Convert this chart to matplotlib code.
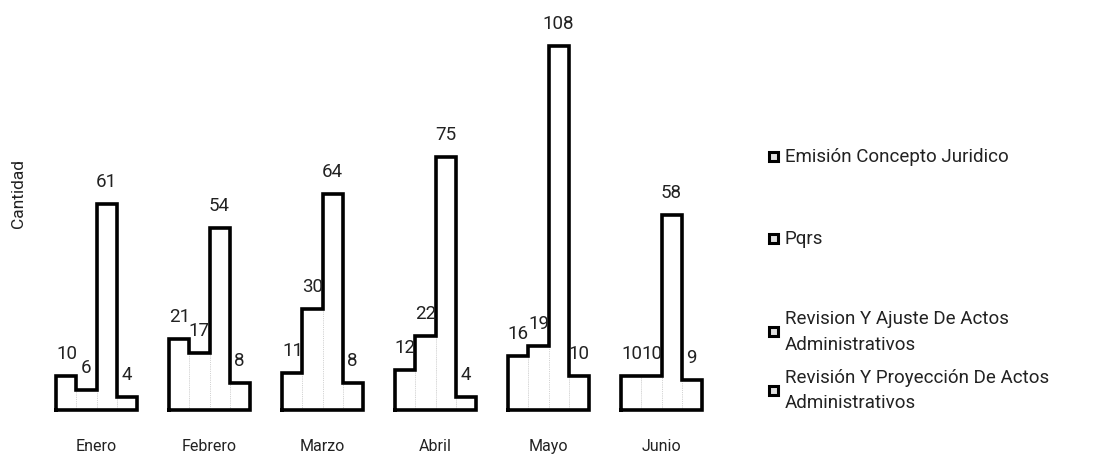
import numpy as np
import matplotlib
matplotlib.use("Agg")
import matplotlib.pyplot as plt
from matplotlib.patches import Rectangle

# Datos del grafico
meses = ["Enero", "Febrero", "Marzo", "Abril", "Mayo", "Junio"]
series = [
    "Emisión Concepto Juridico",
    "Pqrs",
    "Revision Y Ajuste De Actos\nAdministrativos",
    "Revisión Y Proyección De Actos\nAdministrativos",
]
emision = [10, 21, 11, 12, 16, 10]
pqrs = [6, 17, 30, 22, 19, 10]
revision_ajuste = [61, 54, 64, 75, 108, 58]
revision_proyeccion = [4, 8, 8, 4, 10, 9]

valores = [emision, pqrs, revision_ajuste, revision_proyeccion]

plt.rcParams['font.family'] = ['Roboto', 'DejaVu Sans']
plt.rcParams['text.color'] = '#222222'
plt.rcParams['xtick.color'] = '#222222'

fig = plt.figure(figsize=(11.01, 4.6), dpi=100)
ax = fig.add_axes([40 / 1101, 49 / 460, 678 / 1101, 391 / 460])

x = np.arange(len(meses))
ancho = 0.177
barras = []
for i, vals in enumerate(valores):
    pos = x + (i - 1.5) * ancho
    b = ax.bar(pos, vals, ancho, facecolor="white", edgecolor="#c8c8c8",
               linewidth=0.6, linestyle=":")
    barras.append(b)
    for p, v in zip(pos, vals):
        ax.annotate(str(v), (p, v), xytext=(0, 10), textcoords="offset points",
                    ha="center", va="bottom", fontsize=13.5)

# Contorno exterior de cada grupo (como escalera)
for j in range(len(meses)):
    rects = [b.patches[j] for b in barras]
    xs = [rects[0].get_x()]
    ys = [0]
    for r in rects:
        xs += [r.get_x(), r.get_x() + r.get_width()]
        ys += [r.get_height(), r.get_height()]
    xs += [rects[-1].get_x() + rects[-1].get_width(), rects[0].get_x()]
    ys += [0, 0]
    ax.plot(xs, ys, color="black", linewidth=2.6, solid_joinstyle="miter",
            clip_on=False)

ax.set_xlim(-0.5, 5.5)
ax.set_ylim(0, 116)
ax.set_xticks(x, meses, fontsize=11.5)
ax.tick_params(axis="x", length=0, pad=20)
ax.set_yticks([])
for s in ax.spines.values():
    s.set_visible(False)
fig.text(18 / 1101, 1 - 193 / 460, "Cantidad", rotation=90, ha="center",
         va="center", fontsize=12.5)

# Leyenda manual
pos_leyenda = [157, 239, 332, 391]
for nombre, yy in zip(series, pos_leyenda):
    yf = 1 - yy / 460
    fig.patches.append(Rectangle((769 / 1101, yf - 4.5 / 460), 9 / 1101, 9 / 460,
                                 transform=fig.transFigure, facecolor="#e0e0e0",
                                 edgecolor="black", linewidth=2.2))
    fig.text(785 / 1101, yf, nombre, ha="left", va="center", fontsize=13.5,
             linespacing=1.5)

fig.savefig("out.png", dpi=100, facecolor="white")
